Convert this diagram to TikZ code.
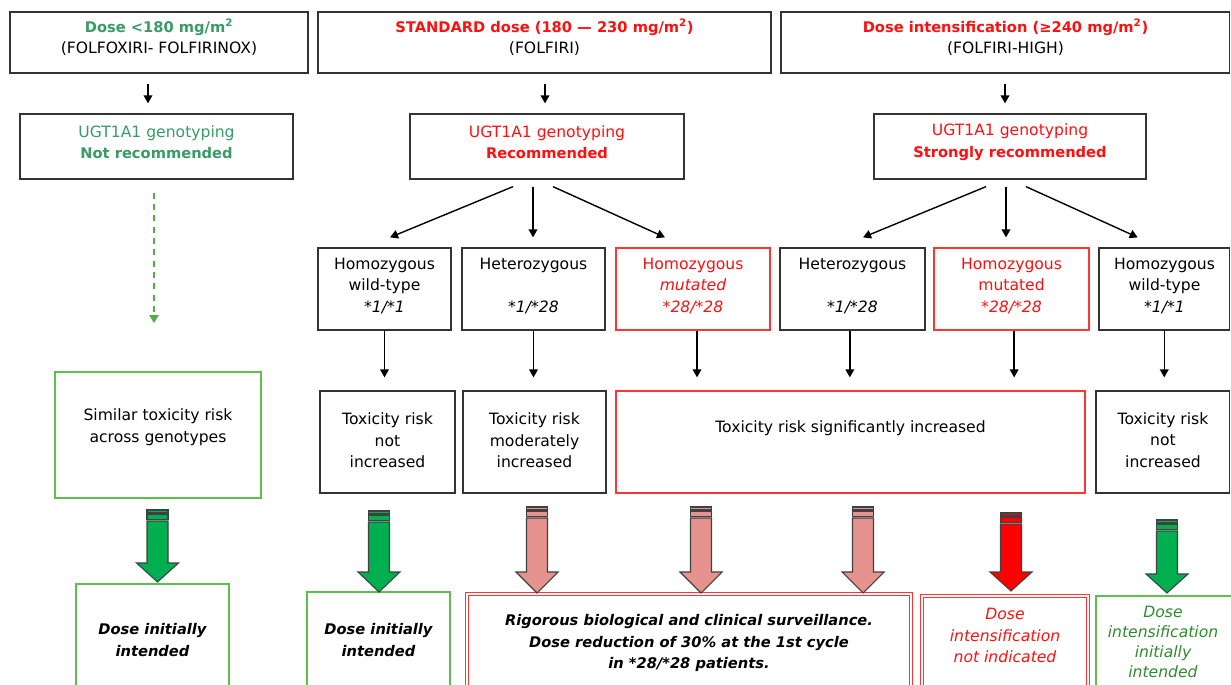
\documentclass[tikz,border=0pt]{standalone}
\usepackage{fontspec}
\setmainfont{DejaVu Sans}
\usetikzlibrary{arrows.meta,fit,calc}
\definecolor{gtxt}{HTML}{3A9A68}
\definecolor{gtxtb}{HTML}{2E8B2E}
\definecolor{gbord}{HTML}{5CBF4E}
\definecolor{rbord}{HTML}{FF3535}
\definecolor{rtxt}{HTML}{FF1010}
\definecolor{boxgray}{HTML}{333333}
\definecolor{garrow}{HTML}{00AF4F}
\definecolor{parrow}{HTML}{E69390}
\definecolor{rarrow}{HTML}{FF0000}
\definecolor{arrgray}{HTML}{404040}
\newcommand\rfont{\fontsize{11.7}{16.1}\selectfont}
\newcommand\bfont{\fontsize{11}{16.1}\selectfont\bfseries}
\newcommand\blockarr[5]{%
  \filldraw[fill=#5, draw=arrgray, line width=0.8pt] (#1-10.5,#2) rectangle (#1+10.5,#2+3);
  \filldraw[fill=#5, draw=arrgray, line width=0.8pt] (#1-10.5,#2+4.5) rectangle (#1+10.5,#2+9.5);
  \filldraw[fill=#5, draw=arrgray, line width=0.8pt, line join=miter]
    (#1-10.5,#2+11) -- (#1+10.5,#2+11) -- (#1+10.5,#3) -- (#1+21,#3) -- (#1,#4)
    -- (#1-21,#3) -- (#1-10.5,#3) -- cycle;
}
\tikzset{
  box/.style={draw=boxgray, line width=0.95pt, inner sep=0pt},
  rbox/.style={draw=rbord, line width=0.95pt, inner sep=0pt},
  gbox/.style={draw=gbord, line width=1.1pt, inner sep=0pt},
  dbox/.style={draw=rbord, double=white, double distance=1.6pt, line width=0.8pt, inner sep=0pt},
  txt/.style={align=center, font=\rfont, inner sep=0pt},
  arr/.style={-{Triangle[length=6pt,width=6.5pt]}, line width=1.05pt, black},
  dasharr/.style={-{Triangle[length=6pt,width=7pt]}, line width=1.4pt, draw=gbord!90!black, dash pattern=on 4.5pt off 4pt},
}
\begin{document}
\begin{tikzpicture}[x=0.75pt,y=-0.75pt]
\useasboundingbox (0,0) rectangle (1231,685);
\clip (0,0) rectangle (1231,685);
\fill[white] (0,0) rectangle (1231,685);

% top boxes
\node[box, fit={(10,12) (308,73)}] (top1) {};
\node[box, fit={(318,12) (771,73)}] (top2) {};
\node[box, fit={(781,12) (1229.5,73)}] (top3) {};
\node[txt] (top1t) at (159,37.5) {{\bfont\color{gtxt}Dose <180 mg/m\textsuperscript{2}}\\(FOLFOXIRI- FOLFIRINOX)};
\node[txt] (top2t) at (544.5,37.5) {{\bfont\color{rtxt}STANDARD dose (180 — 230 mg/m\textsuperscript{2})}\\(FOLFIRI)};
\node[txt] (top3t) at (1005.5,37.5) {{\bfont\color{rtxt}Dose intensification (≥240 mg/m\textsuperscript{2})}\\(FOLFIRI-HIGH)};

% UGT boxes
\node[box, fit={(20,114) (293,179)}] (u1) {};
\node[box, fit={(410,114) (684,179)}] (u2) {};
\node[box, fit={(874,114) (1146,179)}] (u3) {};
\node[txt, text=gtxt] (u1t) at (156.5,142) {UGT1A1 genotyping\\{\bfont Not recommended}};
\node[txt, text=rtxt] (u2t) at (547,142) {UGT1A1 genotyping\\{\bfont Recommended}};
\node[txt, text=rtxt] (u3t) at (1010,142) {UGT1A1 genotyping\\{\bfont Strongly recommended}};

\coordinate (a1) at (148,0);
\coordinate (a2) at (545,0);
\coordinate (a3) at (1005,0);
\draw[arr, shorten <=8pt, shorten >=7.5pt] (top1.south -| a1) -- (u1.north -| a1);
\draw[arr, shorten <=8pt, shorten >=7.5pt] (top2.south -| a2) -- (u2.north -| a2);
\draw[arr, shorten <=8pt, shorten >=7.5pt] (top3.south -| a3) -- (u3.north -| a3);

% genotype boxes
\node[box,  fit={(318,248) (451,330)}] (g1) {};
\node[box,  fit={(462,248) (605,330)}] (g2) {};
\node[rbox, fit={(616,248) (770,330)}] (g3) {};
\node[box,  fit={(780,248) (925,330)}] (g4) {};
\node[rbox, fit={(934,248) (1089,330)}] (g5) {};
\node[box,  fit={(1099,248) (1229.5,330)}] (g6) {};
\node[txt] (g1t) at (384.5,286) {Homozygous\\wild-type\\\textit{*1/*1}};
\node[txt] (g2t) at (533.5,286) {Heterozygous\\~\\\textit{*1/*28}};
\node[txt, text=rtxt] (g3t) at (693,286) {Homozygous\\\textit{mutated}\\\textit{*28/*28}};
\node[txt] (g4t) at (852.5,286) {Heterozygous\\~\\\textit{*1/*28}};
\node[txt, text=rtxt] (g5t) at (1011.5,286) {Homozygous\\mutated\\\textit{*28/*28}};
\node[txt] (g6t) at (1164.5,286) {Homozygous\\wild-type\\\textit{*1/*1}};

% fork arrows
\draw[arr] ($(u2.south)+(-34,7)$) -- ($(g1.north)+(5.5,-10)$);
\draw[arr] ($(u2.south)+(-14,7)$) -- ($(g2.north)+(-0.5,-10)$);
\draw[arr] ($(u2.south)+(6,7)$) -- ($(g3.north)+(-28,-10)$);
\draw[arr] ($(u3.south)+(-24,7)$) -- ($(g4.north)+(10.5,-10)$);
\draw[arr] ($(u3.south)+(-4,7)$) -- ($(g5.north)+(-5.5,-10)$);
\draw[arr] ($(u3.south)+(16,7)$) -- ($(g6.north)+(-26.5,-10)$);

% toxicity boxes
\node[gbox, fit={(55,372) (261,498)}] (sim) {};
\node[box,  fit={(320,391) (455,493)}] (t1) {};
\node[box,  fit={(463,391) (606,493)}] (t2) {};
\node[rbox, fit={(616,391) (1085,493)}] (t3) {};
\node[box,  fit={(1096,391) (1229.5,493)}] (t4) {};
\node[txt] (simt) at (158,427) {Similar toxicity risk\\across genotypes};
\node[txt] (t1t) at (387.5,440.5) {Toxicity risk\\not\\increased};
\node[txt] (t2t) at (534.5,440.5) {Toxicity risk\\moderately\\increased};
\node[txt] (t3t) at (850.5,428) {Toxicity risk significantly increased};
\node[txt] (t4t) at (1163,440) {Toxicity risk\\not\\increased};

\coordinate (dend) at (154,323);
\draw[dasharr] ($(u1.south)+(-2.5,13)$) -- (dend);

\draw[arr, shorten >=9.75pt] (g1.south) -- (g1.south |- t1.north);
\draw[arr, shorten >=9.75pt] (g2.south) -- (g2.south |- t2.north);
\draw[arr, shorten >=9.75pt] ([xshift=3pt]g3.south) -- ([xshift=3pt]g3.south |- t3.north);
\draw[arr, shorten >=9.75pt] ([xshift=-2pt]g4.south) -- ([xshift=-2pt]g4.south |- t3.north);
\draw[arr, shorten >=9.75pt] ([xshift=2pt]g5.south) -- ([xshift=2pt]g5.south |- t3.north);
\draw[arr, shorten >=9.75pt] (g6.south) -- (g6.south |- t4.north);

% bottom boxes
\node[gbox, fit={(76,584) (229,695)}] (b1) {};
\node[gbox, fit={(307,592) (450,695)}] (b2) {};
\node[dbox, fit={(467,594) (911,695)}] (b3) {};
\node[dbox, fit={(922,596) (1088,695)}] (b4) {};
\node[gbox, fit={(1096,596) (1240,695)}] (b5) {};
\node[txt, font=\bfont\itshape] (b1t) at (152.5,640) {Dose initially\\intended};
\node[txt, font=\bfont\itshape] (b2t) at (378.5,640) {Dose initially\\intended};
\node[txt, font=\bfont\itshape] (b3t) at (689,643) {Rigorous biological and clinical surveillance.\\Dose reduction of 30\% at the 1st cycle\\in *28/*28 patients.};
\node[txt, font=\rfont\itshape, text=rtxt] (b4t) at (1005,635.5) {Dose\\intensification\\not indicated};
\node[txt, font=\fontsize{11.7}{14.9}\selectfont\itshape, text=gtxtb] (b5t) at (1163,642) {Dose\\intensification\\initially\\intended};

% block arrows
\blockarr{157.5}{510}{563}{582}{garrow}
\blockarr{379}{511}{572}{592}{garrow}
\blockarr{537}{507}{572}{593}{parrow}
\blockarr{701}{507}{572}{593}{parrow}
\blockarr{863}{507}{572}{593}{parrow}
\blockarr{1011}{513}{572}{591}{rarrow}
\blockarr{1167}{520}{574}{593}{garrow}
\end{tikzpicture}
\end{document}
